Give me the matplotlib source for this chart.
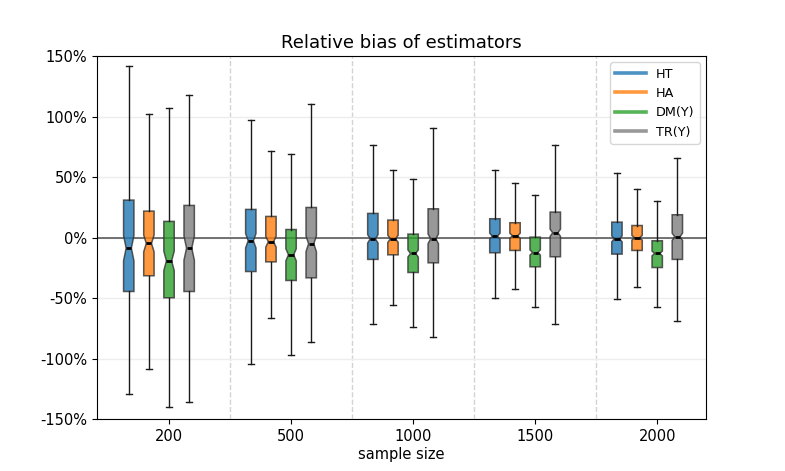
import numpy as np
import matplotlib.pyplot as plt
from matplotlib.ticker import PercentFormatter

plt.rcParams['axes.unicode_minus'] = False

sizes = ['200', '500', '1000', '1500', '2000']
estimators = ['HT', 'HA', 'DM(Y)', 'TR(Y)']
colors = ['tab:blue', 'tab:orange', 'tab:green', 'tab:gray']

# per estimator, per sample size: [whislo, q1, med, q3, whishi] in %
HT = [[-129.6, -44.5, -8.7, 31.0, 141.7],
      [-104.5, -28.0, -2.6, 23.3, 96.8],
      [-71.2, -18.0, -1.0, 20.0, 76.7],
      [-50.0, -12.5, 1.2, 15.6, 55.5],
      [-51.1, -13.6, -1.0, 12.8, 53.3]]
HA = [[-108.4, -31.5, -4.8, 21.9, 101.8],
      [-66.5, -20.0, -3.4, 17.5, 71.2],
      [-55.8, -14.2, -1.0, 14.5, 55.5],
      [-42.8, -10.6, 1.5, 12.3, 44.8],
      [-41.2, -10.6, -0.1, 10.0, 39.8]]
DM = [[-139.8, -49.7, -19.2, 13.4, 107.0],
      [-96.6, -35.4, -14.2, 6.7, 69.3],
      [-73.7, -28.8, -13.1, 2.9, 48.6],
      [-57.2, -24.1, -12.3, 0.4, 34.9],
      [-57.2, -24.7, -13.1, -2.6, 30.4]]
TR = [[-135.7, -44.5, -8.7, 26.6, 118.0],
      [-86.4, -33.2, -5.1, 24.9, 110.6],
      [-82.0, -20.8, -1.0, 23.8, 90.7],
      [-71.2, -15.8, 4.0, 21.1, 76.2],
      [-68.8, -18.0, 0.7, 18.9, 66.0]]
# half width of the notch (in %), per estimator and sample size
notch = [[10.5, 6.0, 3.5, 2.5, 2.5],
         [7.0, 4.5, 3.0, 2.2, 2.0],
         [8.0, 5.0, 3.0, 2.2, 2.0],
         [10.0, 6.5, 4.0, 3.0, 3.0]]

data = [HT, HA, DM, TR]

fig = plt.figure(figsize=(7.85, 4.71), dpi=100)
ax = fig.add_axes([0.1236, 0.110, 0.7758, 0.771])

offsets = [-0.33, -0.165, 0.0, 0.165]
for k, (est, col) in enumerate(zip(data, colors)):
    stats = []
    for i, (lo, q1, med, q3, hi) in enumerate(est):
        stats.append(dict(whislo=lo / 100, q1=q1 / 100, med=med / 100, q3=q3 / 100,
                          whishi=hi / 100, cilo=(med - notch[k][i]) / 100,
                          cihi=(med + notch[k][i]) / 100, fliers=[]))
    pos = [i + 1 + offsets[k] for i in range(len(sizes))]
    ax.bxp(stats, positions=pos, widths=0.085, shownotches=True,
           patch_artist=True, showfliers=False,
           boxprops=dict(facecolor=col, alpha=0.8, edgecolor='0.2', linewidth=1.1),
           medianprops=dict(color='black', linewidth=2),
           whiskerprops=dict(color='0.1', linewidth=1.0),
           capprops=dict(color='0.1', linewidth=1.0),
           capwidths=0.05)

ax.axhline(0, color='0.2', alpha=0.8, linewidth=1.2, zorder=1)
for s in range(1, len(sizes)):
    ax.axvline(s + 0.5, color='lightgray', linestyle='--', linewidth=1, zorder=0)
ax.yaxis.grid(True, color='0.93', linewidth=1)
ax.set_axisbelow(True)

ax.set_xticks(range(1, len(sizes) + 1))
ax.set_xticklabels(sizes)
ax.set_xlim(0.41, 5.40)
ax.set_ylim(-1.5, 1.5)
ax.set_yticks(np.arange(-1.5, 1.51, 0.5))
ax.yaxis.set_major_formatter(PercentFormatter(1.0, decimals=0))
ax.tick_params(labelsize=10.5)
ax.set_xlabel('sample size', fontsize=10.5, labelpad=2)
ax.set_title('Relative bias of estimators', fontsize=13)

handles = [plt.Line2D([], [], color=c, lw=2.6, alpha=0.8) for c in colors]
ax.legend(handles, estimators, loc='upper right', fontsize=9.2, handlelength=2.4)

fig.savefig('out.png', dpi=100)
